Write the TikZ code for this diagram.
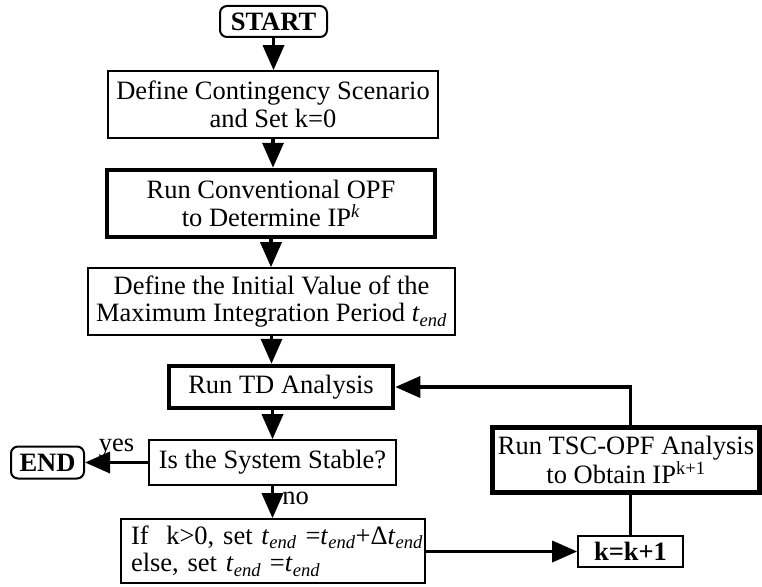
\documentclass[tikz,border=0pt]{standalone}
\usepackage{fontspec}
\setmainfont{Liberation Serif}
\usetikzlibrary{arrows.meta}

\newcommand{\tend}{\textit{t}\textsubscript{\textit{end}}}

\tikzset{every picture/.style={line width=1.6pt}}
\tikzset{
  thinbox/.style={draw, line width=1.6pt, align=center, inner sep=2pt, font=\fontsize{26.5pt}{27.5pt}\selectfont},
  thickbox/.style={thinbox, line width=4.5pt},
  termbox/.style={thinbox, line width=2pt, rounded corners=7pt, font=\fontsize{26.5pt}{27.5pt}\selectfont\bfseries},
  flow/.style={line width=3.5pt, -{Triangle[length=25pt,width=21pt]}},
  link/.style={line width=3.5pt},
  lbl/.style={inner sep=2pt, font=\fontsize{26.5pt}{27.5pt}\selectfont},
}

\begin{document}
\begin{tikzpicture}[x=1pt,y=1pt,yscale=-1,xscale=1]
\useasboundingbox (0,0) rectangle (762,586);

% Text Node
\node [termbox, minimum width=107pt, minimum height=31pt] (start) at (273.5,21.5) {START};
% Text Node
\node [thinbox, minimum width=330pt, minimum height=67pt] (scen) at (273,104.5) {Define Contingency Scenario\\and Set k=0};
% Text Node
\node [thickbox, minimum width=328pt, minimum height=67pt] (opf) at (271,203.5) {Run Conventional OPF\\to Determine IP\textsuperscript{\textit{k}}};
% Text Node
\node [thinbox, minimum width=367pt, minimum height=67pt] (init) at (271.5,301.5) {Define the Initial Value of the\\Maximum Integration Period \tend};
% Text Node
\node [thickbox, minimum width=224pt, minimum height=42pt] (td) at (281,387) {Run TD Analysis};
% Text Node
\node [thinbox, minimum width=247pt, minimum height=45pt] (stab) at (272.5,462.5) {Is the System Stable?};
% Text Node
\node [termbox, minimum width=73pt, minimum height=32pt] (stop) at (47.5,462.5) {END};
% Text Node
\node [thinbox, align=left, text width=284pt, inner xsep=10pt, minimum height=64pt] (upd) at (273,551) {\mbox{If\ \ k>0, set \tend\ =\tend+Δ\tend}\\\mbox{else, set \tend\ =\tend}};
% Text Node
\node [thinbox, font=\fontsize{26.5pt}{27.5pt}\selectfont\bfseries, minimum width=105pt, minimum height=31pt] (kinc) at (630.5,551.5) {k=k+1};
% Text Node
\node [thickbox, minimum width=267pt, minimum height=65pt] (tsc) at (626,460) {Run TSC-OPF Analysis\\to Obtain IP\textsuperscript{k+1}};

%Straight Lines
\draw [flow] (start.south) -- (start.south |- scen.north);
\draw [flow] (scen.south) -- (scen.south |- opf.north);
\draw [flow] (opf.south) -- (opf.south |- init.north);
\draw [flow] (init.south) -- (init.south |- td.north);
\draw [flow] (stab.north |- td.south) -- (stab.north);
\draw [flow] (stab.south) -- node [lbl, pos=0.4, right=6pt] {no} (stab.south |- upd.north);
\draw [flow] (stab.west) -- node [lbl, above=2pt] {yes} (stop.east);
\draw [flow] (upd.east |- kinc) -- (kinc.west);
\draw [link] (kinc.north) -- (kinc.north |- tsc.south);
\draw [flow] (kinc.north |- tsc.north) |- (td.east);

\end{tikzpicture}
\end{document}
